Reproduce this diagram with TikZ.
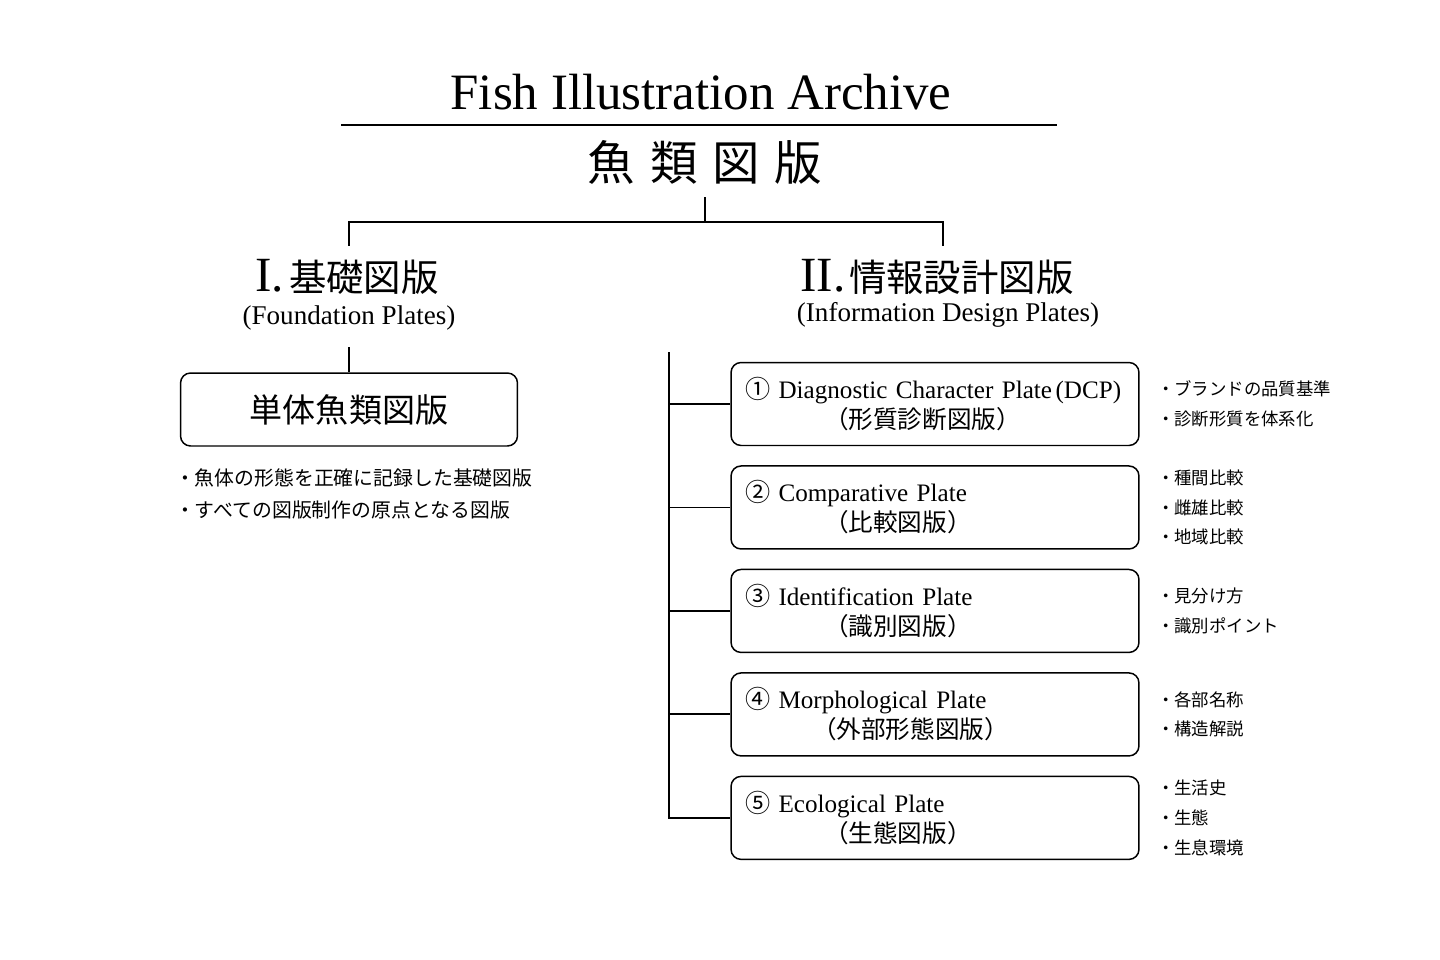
\documentclass[tikz,border=0pt]{standalone}
\usepackage{fontspec}
\setmainfont{Liberation Serif}
\newfontfamily\jp{Noto Sans CJK JP}
\usepackage{tikz}
\usetikzlibrary{positioning, calc}

\tikzset{
  wire/.style={line width=1.1pt},
  platebox/.style={draw, line width=0.85pt, rounded corners=0.2cm,
    minimum width=8.16cm, minimum height=1.66cm, text width=7.6cm,
    inner xsep=0.28cm, align=left, font=\fontsize{14.3pt}{17pt}\selectfont},
  notes/.style={inner sep=0pt, align=left, font=\jp\fontsize{9.9pt}{17pt}\selectfont},
  heading/.style={font=\jp\fontsize{21.3pt}{26pt}\selectfont, minimum height=1.24cm},
  subhead/.style={font=\fontsize{15.4pt}{18pt}\selectfont, minimum height=1.16cm},
}

\newcommand{\jpsub}[1]{{\jp\fontsize{14pt}{17pt}\selectfont #1}}

\begin{document}
\begin{tikzpicture}[x=0.02cm, y=-0.02cm, node distance=0.38cm]
    \useasboundingbox (0,0) rectangle (1440,960);

    % title
    \node[font=\fontsize{29pt}{34pt}\selectfont] (title) at (701,92) {Fish Illustration Archive};
    \draw[wire] (341,125) -- (1057,125);
    \node[font=\jp\fontsize{27pt}{32pt}\selectfont, minimum height=1.4cm] (root) at (705,162)
        {魚\hspace{0.3cm}類\hspace{0.3cm}図\hspace{0.3cm}版};

    % two sections
    \node[heading] (sec1) at (347,277) {{\rmfamily\fontsize{28pt}{32pt}\selectfont I.}\kern3pt 基礎図版};
    \node[heading] (sec2) at (937,277) {{\rmfamily\fontsize{28pt}{32pt}\selectfont II.}\kern2pt 情報設計図版};
    \node[subhead] (sub1) at (349,318) {(Foundation Plates)};
    \node[subhead] (sub2) at (948,315) {(Information Design Plates)};

    \coordinate (split) at (705,222);
    \draw[wire] (root.south) -- (split);
    \draw[wire] ([xshift=0.04cm]sec1.north) |- (split) -| ([xshift=0.12cm]sec2.north);

    % foundation plate
    \node[draw, line width=0.85pt, rounded corners=0.2cm, minimum width=6.74cm, minimum height=1.46cm,
        font=\jp\fontsize{18.8pt}{22pt}\selectfont] (single) at (349,409.5) {単体魚類図版};
    \draw[wire] (sub1.south) -- (single.north);
    \node[anchor=north west, inner sep=0pt, align=left, font=\jp\fontsize{11.3pt}{18.2pt}\selectfont]
        (desc) at ($(single.south west) + (-5,22)$)
        {・魚体の形態を正確に記録した基礎図版\\・すべての図版制作の原点となる図版};

    % information design plates
    \node[platebox] (p1) at (935,404)
        {\mbox{{\jp ①} Diagnostic Character Plate\kern2pt(DCP)}\\\hspace*{1.58cm}\jpsub{（形質診断図版）}};
    \node[platebox, below=of p1] (p2)
        {{\jp ②} Comparative Plate\\\hspace*{1.58cm}\jpsub{（比較図版）}};
    \node[platebox, below=of p2] (p3)
        {{\jp ③} Identification Plate\\\hspace*{1.58cm}\jpsub{（識別図版）}};
    \node[platebox, below=of p3] (p4)
        {{\jp ④} Morphological Plate\\\hspace*{1.34cm}\jpsub{（外部形態図版）}};
    \node[platebox, below=of p4] (p5)
        {{\jp ⑤} Ecological Plate\\\hspace*{1.58cm}\jpsub{（生態図版）}};

    \coordinate (trunk) at (669,352);
    \draw[wire] (trunk) |- (p5.west);
    \draw[wire] (trunk |- p1.west) -- (p1.west);
    \draw[wire] (trunk |- p2.west) -- (p2.west);
    \draw[wire] (trunk |- p3.west) -- (p3.west);
    \draw[wire] (trunk |- p4.west) -- (p4.west);

    \node[notes, right=0.34cm of p1] (n1) {・ブランドの品質基準\\・診断形質を体系化};
    \node[notes, right=0.34cm of p2] (n2) {・種間比較\\・雌雄比較\\・地域比較};
    \node[notes, right=0.34cm of p3] (n3) {・見分け方\\・識別ポイント};
    \node[notes, right=0.34cm of p4] (n4) {・各部名称\\・構造解説};
    \node[notes, right=0.34cm of p5] (n5) {・生活史\\・生態\\・生息環境};

\end{tikzpicture}
\end{document}
